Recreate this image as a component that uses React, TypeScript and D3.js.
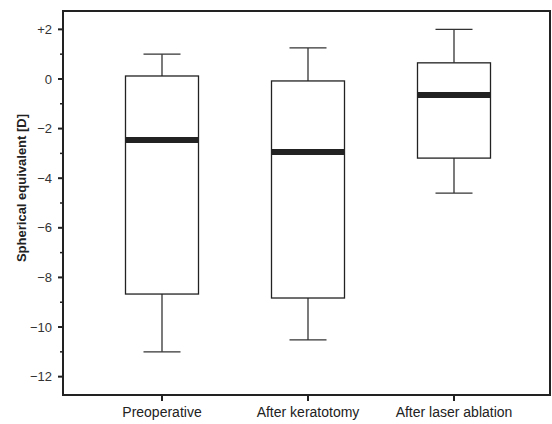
import React, { useEffect, useRef } from "react";
import * as d3 from "d3";

// Box summary
const categories = ["Preoperative", "After keratotomy", "After laser ablation"];
const whiskerHigh = [1.0, 1.25, 2.0];
const boxHigh = [0.12, -0.08, 0.65];
const medians = [-2.46, -2.94, -0.65];
const boxLow = [-8.67, -8.83, -3.19];
const whiskerLow = [-11.0, -10.52, -4.6];
const yTicks = [2, 0, -2, -4, -6, -8, -10, -12];
const yMinorTicks = [1, -1, -3, -5, -7, -9, -11];

const App: React.FC = () => {
  const svgRef = useRef<SVGSVGElement>(null);

  useEffect(() => {
    if (!svgRef.current) return;
    const width = 552;
    const height = 424;
    const margin = { top: 11, right: 1, bottom: 29, left: 63 };

    const svg = d3.select(svgRef.current);
    svg.selectAll("*").remove();
    svg.attr("width", width).attr("height", height).style("font-family", "Liberation Sans, Arial, sans-serif");

    const x = d3
      .scalePoint<string>()
      .domain(categories)
      .range([162, 454]);

    const y = d3
      .scaleLinear()
      .domain([-12.74, 2.74])
      .range([height - margin.bottom, margin.top]);

    const boxW = 73;
    const capW = 37;

    // frame
    svg
      .append("rect")
      .attr("x", margin.left)
      .attr("y", margin.top)
      .attr("width", width - margin.left - margin.right - 1)
      .attr("height", height - margin.top - margin.bottom)
      .attr("fill", "none")
      .attr("stroke", "#222")
      .attr("stroke-width", 2);

    // y axis ticks
    const yAxis = svg.append("g");
    yAxis
      .selectAll("line.major")
      .data(yTicks)
      .join("line")
      .attr("class", "major")
      .attr("x1", margin.left - 5)
      .attr("x2", margin.left)
      .attr("y1", (d) => y(d))
      .attr("y2", (d) => y(d))
      .attr("stroke", "#222")
      .attr("stroke-width", 2);
    yAxis
      .selectAll("line.minor")
      .data(yMinorTicks)
      .join("line")
      .attr("class", "minor")
      .attr("x1", margin.left - 3)
      .attr("x2", margin.left)
      .attr("y1", (d) => y(d))
      .attr("y2", (d) => y(d))
      .attr("stroke", "#222")
      .attr("stroke-width", 1.5);
    yAxis
      .selectAll("text")
      .data(yTicks)
      .join("text")
      .attr("x", margin.left - 11)
      .attr("y", (d) => y(d))
      .attr("dy", "0.35em")
      .attr("text-anchor", "end")
      .attr("font-size", 13)
      .attr("fill", "#333")
      .text((d) => (d > 0 ? `+${d}` : d === 0 ? "0" : `\u2212${-d}`));

    // x axis ticks
    const xAxis = svg.append("g");
    const axisY = height - margin.bottom;
    xAxis
      .selectAll("line")
      .data(categories)
      .join("line")
      .attr("x1", (d) => x(d) as number)
      .attr("x2", (d) => x(d) as number)
      .attr("y1", axisY)
      .attr("y2", axisY + 6)
      .attr("stroke", "#222")
      .attr("stroke-width", 2);
    xAxis
      .selectAll("text")
      .data(categories)
      .join("text")
      .attr("x", (d) => x(d) as number)
      .attr("y", axisY + 22)
      .attr("text-anchor", "middle")
      .attr("font-size", 14)
      .attr("fill", "#222")
      .text((d) => d);

    // y label
    svg
      .append("text")
      .attr("transform", `translate(26, 188) rotate(-90)`)
      .attr("text-anchor", "middle")
      .attr("font-size", 13)
      .attr("font-weight", "bold")
      .attr("fill", "#222")
      .text("Spherical equivalent [D]");

    // boxes
    const g = svg.append("g");
    categories.forEach((c, i) => {
      const cx = x(c) as number;
      g.append("line")
        .attr("x1", cx)
        .attr("x2", cx)
        .attr("y1", y(whiskerHigh[i]))
        .attr("y2", y(boxHigh[i]))
        .attr("stroke", "#333")
        .attr("stroke-width", 1.3);
      g.append("line")
        .attr("x1", cx)
        .attr("x2", cx)
        .attr("y1", y(boxLow[i]))
        .attr("y2", y(whiskerLow[i]))
        .attr("stroke", "#333")
        .attr("stroke-width", 1.3);
      [whiskerHigh[i], whiskerLow[i]].forEach((v) => {
        g.append("line")
          .attr("x1", cx - capW / 2)
          .attr("x2", cx + capW / 2)
          .attr("y1", y(v))
          .attr("y2", y(v))
          .attr("stroke", "#333")
          .attr("stroke-width", 1.3);
      });
      g.append("rect")
        .attr("x", cx - boxW / 2)
        .attr("y", y(boxHigh[i]))
        .attr("width", boxW)
        .attr("height", y(boxLow[i]) - y(boxHigh[i]))
        .attr("fill", "white")
        .attr("stroke", "#222")
        .attr("stroke-width", 1.3);
      g.append("line")
        .attr("x1", cx - boxW / 2)
        .attr("x2", cx + boxW / 2)
        .attr("y1", y(medians[i]))
        .attr("y2", y(medians[i]))
        .attr("stroke", "#222")
        .attr("stroke-width", 6);
    });
  }, []);

  return <svg ref={svgRef} style={{ position: "absolute", left: 0, top: 0 }} />;
};

export default App;
